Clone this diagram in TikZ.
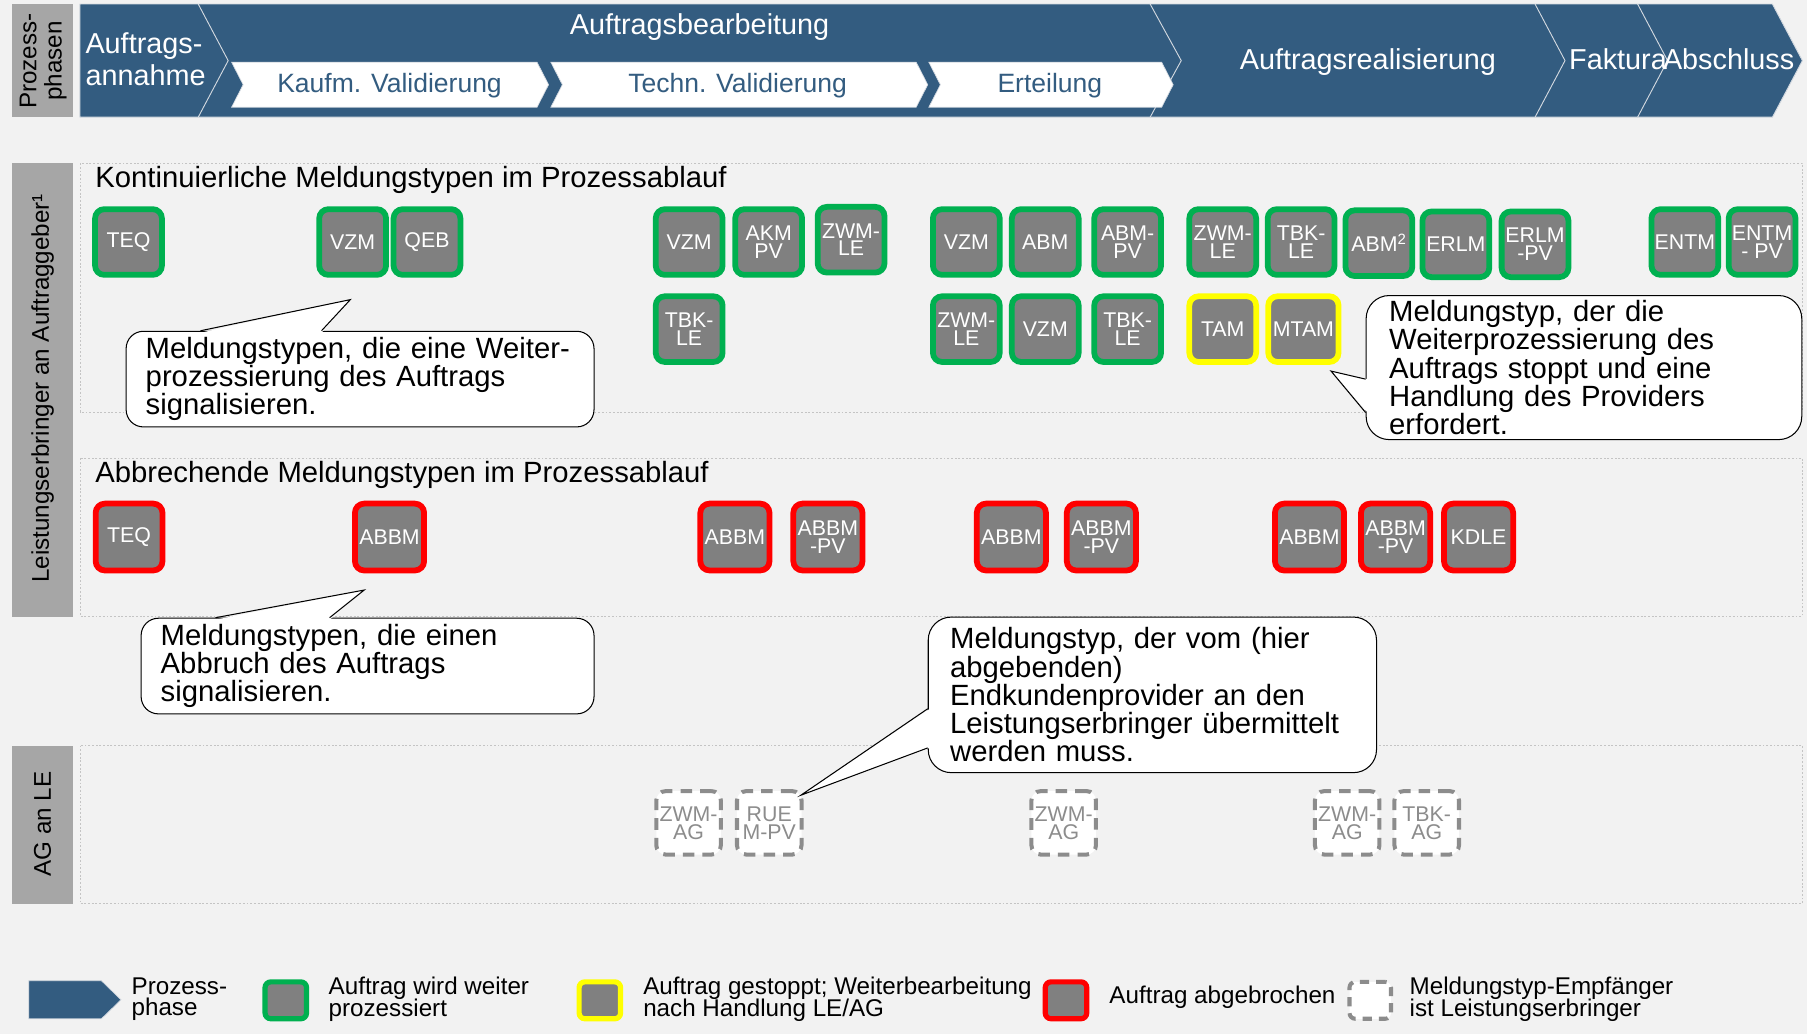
\documentclass[tikz,border=0pt]{standalone}
\usepackage{fontspec}
\setmainfont{Liberation Sans}
\definecolor{bggray}{HTML}{F2F2F2}
\definecolor{hblue}{HTML}{335C80}
\definecolor{labgray}{HTML}{A6A6A6}
\definecolor{nodegray}{HTML}{808080}
\definecolor{okgreen}{HTML}{00B050}
\definecolor{stopyellow}{HTML}{FFFF00}
\definecolor{abortred}{HTML}{FF0000}
\definecolor{dashgray}{HTML}{8C8C8C}
\definecolor{secgray}{HTML}{C4C4C4}
\definecolor{sepline}{HTML}{D3D9E0}
\newcommand{\myfs}[2]{\fontsize{#1}{#2}\selectfont\lineskiplimit=-100pt\relax}
\begin{document}
\begin{tikzpicture}[x=1pt,y=-1pt,
  msgbase/.style={rectangle, rounded corners=8pt, inner sep=0pt, align=center, font=\myfs{18.5}{15.5}},
  okbox/.style={msgbase, fill=nodegray, draw=okgreen, line width=5pt, minimum width=58pt, minimum height=57pt, text=white},
  stopbox/.style={okbox, draw=stopyellow},
  abortbox/.style={okbox, draw=abortred, minimum width=60pt, minimum height=58pt},
  recvbox/.style={msgbase, fill=white, draw=dashgray, line width=3.5pt, dash pattern=on 10pt off 7pt, minimum width=56pt, minimum height=55pt, text=dashgray},
  hdrtext/.style={text=white, inner sep=0pt, font=\myfs{25}{28}},
  subtext/.style={text=hblue, inner sep=0pt, font=\myfs{23}{26}},
  lanelabel/.style={rotate=90, inner sep=0pt, align=center, font=\myfs{21}{22}},
  secline/.style={draw=secgray, line width=0.8pt, dash pattern=on 1.6pt off 1.6pt},
  sectitle/.style={anchor=base west, inner sep=0pt, font=\myfs{25.4}{28}},
  callout/.style={rectangle, draw=black, fill=white, line width=0.9pt, align=left, inner ysep=0pt, anchor=north west, font=\myfs{25.4}{24.5}},
  calloutline/.style={draw=black, line width=0.9pt, line join=miter},
  legtext/.style={anchor=west, align=left, inner sep=0pt, font=\myfs{21}{19}},
  legbox/.style={rectangle, rounded corners=5pt, inner sep=0pt, fill=nodegray, line width=4.5pt, minimum width=36pt, minimum height=32pt},
  legrecv/.style={rectangle, rounded corners=5pt, inner sep=0pt, fill=white, draw=dashgray, line width=3.5pt, dash pattern=on 8pt off 6pt, minimum width=36pt, minimum height=32pt}
]
% canvas
\useasboundingbox (0,0) rectangle (1568,897);
\fill[bggray] (0,0) rectangle (1568,897);

% ---------- header ----------
\fill[labgray] (10.4,3.5) rectangle (63,101.7);
\node[lanelabel] (lblphase) at (37.5,53) {Prozess-\\phasen};

\fill[hblue] (69.4,3.5) -- (1538,3.5) -- (1564,52.6) -- (1538,101.7) -- (69.4,101.7) -- cycle;
\draw[sepline, line width=0.8pt] (69.4,3.5) -- (1538,3.5) -- (1564,52.6) -- (1538,101.7) -- (69.4,101.7) -- cycle;
\draw[sepline, line width=0.8pt] (172,3.5) -- (198,52.6) -- (172,101.7);
\draw[sepline, line width=0.8pt] (998,3.5) -- (1025,52.6) -- (998,101.7);
\draw[sepline, line width=0.8pt] (1332,3.5) -- (1358,52.6) -- (1332,101.7);
\draw[sepline, line width=0.8pt] (1421,3.5) -- (1447,52.6) -- (1421,101.7);

\filldraw[fill=white, draw=sepline, line width=0.6pt] (201,54) -- (466,54) -- (476,73.5) -- (466,93) -- (201,93) -- (211,73.5) -- cycle;
\filldraw[fill=white, draw=sepline, line width=0.6pt] (478,54) -- (795,54) -- (805,73.5) -- (795,93) -- (478,93) -- (488,73.5) -- cycle;
\filldraw[fill=white, draw=sepline, line width=0.6pt] (806,54) -- (1008,54) -- (1018,73.5) -- (1008,93) -- (806,93) -- (816,73.5) -- cycle;

\node[hdrtext, anchor=west, align=left] (annahme) at (74,51.5) {Auftrags-\\annahme};
\node[hdrtext, anchor=base] (bearb) at (607,30) {Auftragsbearbeitung};
\node[subtext, anchor=base] (kaufm) at (338,80) {Kaufm. Validierung};
\node[subtext, anchor=base] (techn) at (640,80) {Techn. Validierung};
\node[subtext, anchor=base] (erteil) at (911,80) {Erteilung};
\node[hdrtext, anchor=base] (realis) at (1187,60) {Auftragsrealisierung};
\node[hdrtext, anchor=base] (faktura) at (1404,60) {Faktura};
\node[hdrtext, anchor=base] (abschluss) at (1500,60) {Abschluss};

% ---------- lanes ----------
\fill[labgray] (10.4,141.6) rectangle (63,535);
\node[lanelabel] (lblle) at (37,337) {Leistungserbringer an Auftraggeber¹};
\fill[labgray] (10.4,647) rectangle (63,784);
\node[lanelabel] (lblag) at (37,715) {AG an LE};

\draw[secline] (69.4,141.6) rectangle (1564,357.5);
\draw[secline] (69.4,397.6) rectangle (1564,534.5);
\draw[secline] (69.4,647) rectangle (1564,784);

\node[sectitle] (title1) at (82.5,163) {Kontinuierliche Meldungstypen im Prozessablauf};
\node[sectitle] (title2) at (82.5,419) {Abbrechende Meldungstypen im Prozessablauf};

% ---------- green row 1 ----------
\node[okbox] (teq1) at (111.5,210) {TEQ};
\node[okbox] (vzm1) at (306,210) {VZM};
\node[okbox] (qeb1) at (370.5,210) {QEB};
\node[okbox] (vzm2) at (598,210) {VZM};
\node[okbox] (akmpv1) at (667,210) {AKM\\PV};
\node[okbox] (zwmle1) at (738.5,208) {ZWM-\\LE};
\node[okbox] (vzm3) at (838.5,210) {VZM};
\node[okbox] (abm1) at (907,210) {ABM};
\node[okbox] (abmpv1) at (978.5,210) {ABM-\\PV};
\node[okbox] (zwmle2) at (1061,210) {ZWM-\\LE};
\node[okbox] (tbkle1) at (1129,210) {TBK-\\LE};
\node[okbox] (abm2) at (1196.5,211) {ABM\textsuperscript{2}};
\node[okbox] (erlm1) at (1263.3,212) {ERLM};
\node[okbox] (erlmpv1) at (1332,212) {ERLM\\-PV};
\node[okbox] (entm1) at (1462,210) {ENTM};
\node[okbox] (entmpv1) at (1529,210) {ENTM\\- PV};
% row 2
\node[okbox] (tbkle2) at (598,285.6) {TBK-\\LE};
\node[okbox] (zwmle3) at (838.5,285.6) {ZWM-\\LE};
\node[okbox] (vzm4) at (907,285.6) {VZM};
\node[okbox] (tbkle3) at (978.5,285.6) {TBK-\\LE};
\node[stopbox] (tam1) at (1061,285.6) {TAM};
\node[stopbox, minimum width=61pt] (mtam1) at (1131,285.6) {MTAM};

% ---------- red row ----------
\node[abortbox, minimum width=58pt] (teq2) at (112,466) {TEQ};
\node[abortbox] (abbm1) at (338,466) {ABBM};
\node[abortbox] (abbm2) at (637.7,466) {ABBM};
\node[abortbox] (abbmpv1) at (718.4,466) {ABBM\\-PV};
\node[abortbox] (abbm3) at (877.6,466) {ABBM};
\node[abortbox] (abbmpv2) at (955.7,466) {ABBM\\-PV};
\node[abortbox] (abbm4) at (1136.3,466) {ABBM};
\node[abortbox] (abbmpv3) at (1211,466) {ABBM\\-PV};
\node[abortbox] (kdle1) at (1283,466) {KDLE};

% ---------- dashed row ----------
\node[recvbox] (zwmag1) at (597.5,714) {ZWM-\\AG};
\node[recvbox] (ruempv1) at (667.5,714) {RUE\\M-PV};
\node[recvbox] (zwmag2) at (923,714) {ZWM-\\AG};
\node[recvbox] (zwmag3) at (1169,714) {ZWM-\\AG};
\node[recvbox] (tbkag1) at (1238,714) {TBK-\\AG};

% ---------- callouts ----------
\node[callout, rounded corners=15pt, inner xsep=17pt, text width=372pt, minimum height=83pt] (c1) at (109,287)
  {Meldungstypen, die eine Weiter-\\prozessierung des Auftrags\\signalisieren.};
\coordinate (c1tip) at (304,260);
\fill[white] ([xshift=65pt,yshift=-1.8pt]c1.north west) -- (c1tip) -- ([xshift=170pt,yshift=-1.8pt]c1.north west) -- cycle;
\draw[calloutline] ([xshift=65pt]c1.north west) -- (c1tip) -- ([xshift=170pt]c1.north west);

\node[callout, rounded corners=20pt, inner xsep=20pt, text width=338pt, minimum height=125pt] (c2) at (1185,256)
  {Meldungstyp, der die\\Weiterprozessierung des\\Auftrags stoppt und eine\\Handlung des Providers\\erfordert.};
\coordinate (c2tip) at (1155,322);
\fill[white] ([xshift=1.8pt,yshift=-73pt]c2.north west) -- (c2tip) -- ([xshift=1.8pt,yshift=-102pt]c2.north west) -- cycle;
\draw[calloutline] ([yshift=-73pt]c2.north west) -- (c2tip) -- ([yshift=-102pt]c2.north west);

\node[callout, rounded corners=15pt, inner xsep=17pt, text width=359pt, minimum height=83pt] (c3) at (122,536)
  {Meldungstypen, die einen\\Abbruch des Auftrags\\signalisieren.};
\coordinate (c3tip) at (316,512);
\fill[white] ([xshift=65pt,yshift=-1.8pt]c3.north west) -- (c3tip) -- ([xshift=164pt,yshift=-1.8pt]c3.north west) -- cycle;
\draw[calloutline] ([xshift=65pt]c3.north west) -- (c3tip) -- ([xshift=164pt]c3.north west);

\node[callout, rounded corners=20pt, inner xsep=19pt, text width=351pt, minimum height=135pt] (c4) at (805,535)
  {Meldungstyp, der vom (hier\\abgebenden)\\Endkundenprovider an den\\Leistungserbringer übermittelt\\werden muss.};
\coordinate (c4tip) at (695,690);
\fill[white] ([xshift=1.8pt,yshift=-80pt]c4.north west) -- (c4tip) -- ([xshift=1.8pt,yshift=-114pt]c4.north west) -- cycle;
\draw[calloutline] ([yshift=-80pt]c4.north west) -- (c4tip) -- ([yshift=-114pt]c4.north west);

% ---------- legend ----------
\filldraw[fill=hblue, draw=sepline, line width=0.6pt] (25,851) -- (88,851) -- (105,867.5) -- (88,884) -- (25,884) -- cycle;
\node[legtext] (lg1) at (114,867) {Prozess-\\phase};
\node[legbox, draw=okgreen] (lgok) at (248,868) {};
\node[legtext] (lg2) at (285,867) {Auftrag wird weiter\\prozessiert};
\node[legbox, draw=stopyellow] (lgstop) at (520.5,868) {};
\node[legtext] (lg3) at (558,867) {Auftrag gestoppt; Weiterbearbeitung\\nach Handlung LE/AG};
\node[legbox, draw=abortred] (lgabort) at (925,868) {};
\node[legtext] (lg4) at (962.5,865) {Auftrag abgebrochen};
\node[legrecv] (lgrecv) at (1189,868) {};
\node[legtext] (lg5) at (1223,867) {Meldungstyp-Empfänger\\ist Leistungserbringer};
\end{tikzpicture}
\end{document}
